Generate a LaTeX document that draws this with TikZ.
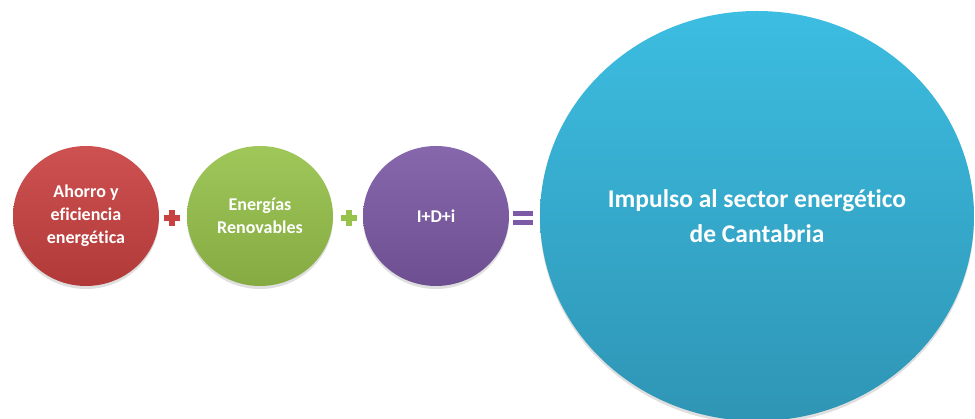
\documentclass[tikz,border=0pt]{standalone}
\usepackage{fontspec}
\setmainfont{Carlito}[Ligatures=NoCommon]
\usepackage{tikz}
\usetikzlibrary{shapes.geometric, shadows, positioning}
\definecolor{rojo}{HTML}{C94241}
\definecolor{verde}{HTML}{97C24B}
\definecolor{morado}{HTML}{7C5AA5}
\definecolor{azularriba}{HTML}{3CBDE1}
\definecolor{azulabajo}{HTML}{2F95B5}
\tikzstyle{bola}=[ellipse,inner sep=0pt,text=white,font=\bfseries\fontsize{18}{23}\selectfont,align=center,
    drop shadow={shadow xshift=0pt,shadow yshift=-3pt,opacity=0.25}]
\tikzstyle{signo}=[line width=5.5pt]

\begin{document}
\begin{tikzpicture}[x=1pt,y=1pt]
    \useasboundingbox (0,0) rectangle (975,419);
    \foreach \p/\n/\c/\t in {{86,203}/ahorro/rojo/{Ahorro y\\eficiencia\\energética},
                             {260,203}/renov/verde/{Energías\\Renovables},
                             {436,203}/idi/morado/{I+D+i}}
        \node[bola,minimum width=146pt,minimum height=140pt,top color=\c!92!white,bottom color=\c!88!black] (\n) at (\p) {\t};
    \node[bola,minimum width=434pt,minimum height=410pt,top color=azularriba,bottom color=azulabajo,
          font=\bfseries\fontsize{25.5}{35}\selectfont] (impulso) at (757,203) {Impulso al sector energético\\de Cantabria};
    % signos entre las bolas
    \coordinate (mas1) at (172,201);
    \coordinate (mas2) at (349,201);
    \coordinate (igual) at (523,201);
    \foreach \m/\c in {mas1/rojo, mas2/verde} {
        \draw[signo,\c] ([xshift=-8pt]\m) -- ([xshift=8pt]\m);
        \draw[signo,\c] ([yshift=-8pt]\m) -- ([yshift=8pt]\m);
    }
    \draw[signo,morado] ([xshift=-10pt,yshift=4.5pt]igual) -- ([xshift=10pt,yshift=4.5pt]igual);
    \draw[signo,morado] ([xshift=-10pt,yshift=-4.5pt]igual) -- ([xshift=10pt,yshift=-4.5pt]igual);
\end{tikzpicture}
\end{document}
